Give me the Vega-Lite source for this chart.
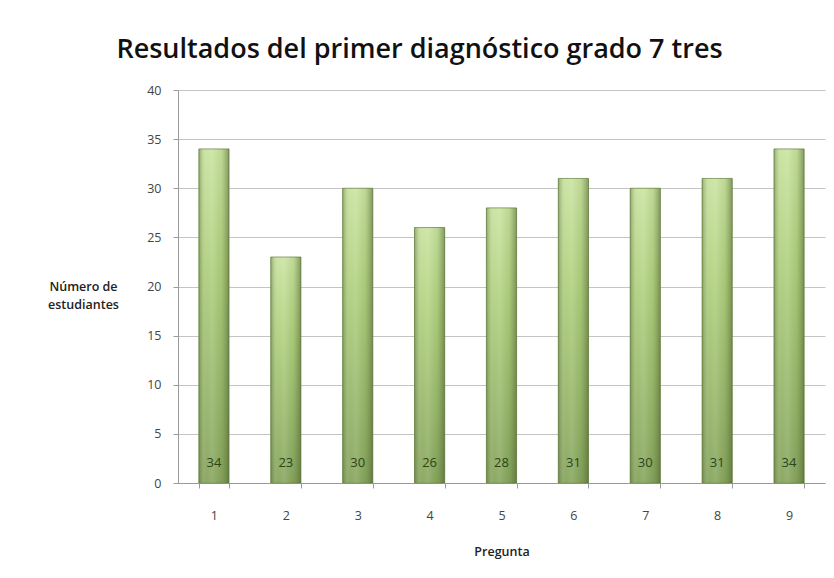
{
  "$schema": "https://vega.github.io/schema/vega-lite/v6.json",
  "width": 647,
  "height": 393,
  "autosize": {"type": "none"},
  "padding": {"left": 178, "top": 90, "right": 9, "bottom": 95},
  "background": "white",
  "title": {
    "text": "Resultados del primer diagnóstico grado 7 tres",
    "font": "Open Sans",
    "fontSize": 27,
    "fontWeight": 600,
    "color": "#111111",
    "anchor": "middle",
    "dx": -82,
    "offset": 20
  },
  "data": {
    "values": [
      {"Pregunta": "1", "Estudiantes": 34},
      {"Pregunta": "2", "Estudiantes": 23},
      {"Pregunta": "3", "Estudiantes": 30},
      {"Pregunta": "4", "Estudiantes": 26},
      {"Pregunta": "5", "Estudiantes": 28},
      {"Pregunta": "6", "Estudiantes": 31},
      {"Pregunta": "7", "Estudiantes": 30},
      {"Pregunta": "8", "Estudiantes": 31},
      {"Pregunta": "9", "Estudiantes": 34}
    ]
  },
  "config": {
    "view": {"stroke": null},
    "axis": {
      "labelFont": "Open Sans",
      "labelFontSize": 12.5,
      "labelColor": "#444444",
      "titleFont": "Open Sans",
      "titleFontSize": 12.5,
      "titleFontWeight": 600,
      "titleColor": "#222222",
      "domainColor": "#9a9a9a",
      "tickColor": "#9a9a9a",
      "gridColor": "#c4c4c4"
    }
  },
  "encoding": {
    "x": {
      "field": "Pregunta",
      "type": "ordinal",
      "scale": {"paddingInner": 0.58, "paddingOuter": 0.29},
      "axis": {
        "title": "Pregunta",
        "labelAngle": 0,
        "tickBand": "extent",
        "tickSize": 5,
        "labelPadding": 21,
        "titlePadding": 24,
        "grid": false
      }
    }
  },
  "layer": [
    {
      "mark": {
        "type": "bar",
        "stroke": "#6f8a48",
        "strokeWidth": 0.8,
        "fill": {
          "x1": 0, "y1": 0, "x2": 0, "y2": 1,
          "gradient": "linear",
          "stops": [
            {"offset": 0, "color": "#c9e39f"},
            {"offset": 0.35, "color": "#b0d07e"},
            {"offset": 1, "color": "#86a45c"}
          ]
        }
      },
      "encoding": {
        "y": {
          "field": "Estudiantes",
          "type": "quantitative",
          "scale": {"domain": [0, 40]},
          "axis": {
            "values": [0, 5, 10, 15, 20, 25, 30, 35, 40],
            "title": ["Número de", "estudiantes"],
            "titleAngle": 0,
            "titleAlign": "center",
            "titleBaseline": "middle",
            "titleX": -95,
            "titleY": 196,
            "titleLineHeight": 18,
            "tickSize": 5,
            "labelPadding": 12,
            "grid": true
          }
        }
      }
    },
    {
      "mark": {
        "type": "bar",
        "fill": {
          "x1": 0, "y1": 0, "x2": 1, "y2": 0,
          "gradient": "linear",
          "stops": [
            {"offset": 0, "color": "rgba(70,95,40,0.45)"},
            {"offset": 0.25, "color": "rgba(255,255,255,0.05)"},
            {"offset": 0.45, "color": "rgba(255,255,255,0.12)"},
            {"offset": 0.75, "color": "rgba(90,115,55,0.1)"},
            {"offset": 1, "color": "rgba(60,80,35,0.5)"}
          ]
        }
      },
      "encoding": {
        "y": {"field": "Estudiantes", "type": "quantitative"}
      }
    },
    {
      "mark": {
        "type": "text",
        "font": "Open Sans",
        "fontSize": 13,
        "color": "#2a4516",
        "baseline": "middle"
      },
      "encoding": {
        "y": {"datum": 2, "type": "quantitative"},
        "text": {"field": "Estudiantes", "type": "quantitative"}
      }
    }
  ]
}
